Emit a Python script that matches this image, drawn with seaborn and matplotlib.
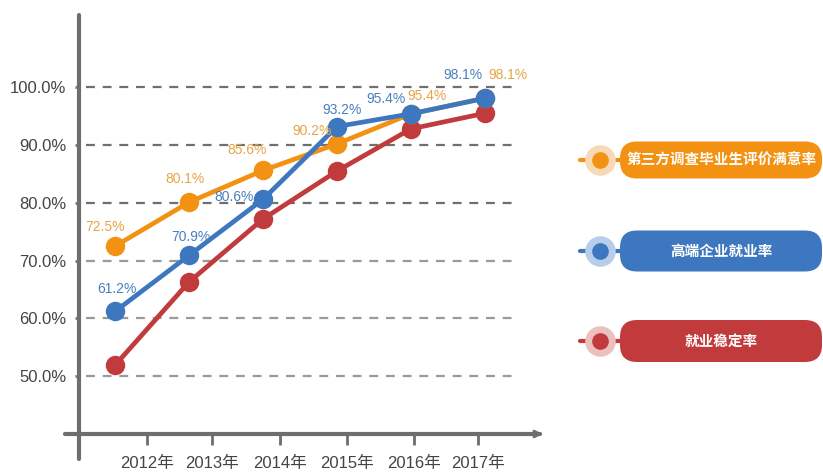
import matplotlib
matplotlib.use("Agg")
import matplotlib.pyplot as plt
from matplotlib.patches import FancyBboxPatch
from matplotlib.lines import Line2D
from matplotlib.transforms import IdentityTransform
import seaborn as sns
import pandas as pd
import numpy as np

# ---------------- data ----------------
years = ["2012年", "2013年", "2014年", "2015年", "2016年", "2017年"]
series_names = ["第三方调查毕业生评价满意率", "高端企业就业率", "就业稳定率"]
satisfaction = [72.5, 80.1, 85.6, 90.2, 95.4, 98.1]
high_end = [61.2, 70.9, 80.6, 93.2, 95.4, 98.1]
stability = [51.9, 66.3, 77.2, 85.5, 92.8, 95.5]
y_ticks = [50, 60, 70, 80, 90, 100]

# ---------------- style ----------------
sns.set_theme(style="white")
plt.rcParams['font.family'] = ['Liberation Sans', 'Noto Sans CJK SC', 'DejaVu Sans']

orange = "#F39212"
blue = "#3D77BF"
red = "#C23B3C"
orange_lbl = "#E8A445"
blue_lbl = "#4A7FBF"

W, H = 823, 475
fig = plt.figure(figsize=(W / 100, H / 100), dpi=100)
ax = fig.add_axes([79 / W, (H - 434) / H, (540 - 79) / W, (434 - 15) / H])

x = np.arange(len(years))
ax.set_xlim((79 - 115) / 74, (540 - 115) / 74)
ax.set_ylim(40, 112.5)

# gridlines
grid_end = (515 - 79) / (540 - 79)
for yt in y_ticks:
    gc = "#6f6f6f" if yt >= 80 else "#9a9a9a"
    ax.axhline(yt, xmin=0.015, xmax=grid_end, color=gc, lw=1.6,
               ls=(0, (4, 3.5)), zorder=1)

df = pd.DataFrame({"x": np.tile(x, 3),
                   "y": stability + satisfaction + high_end,
                   "s": [series_names[2]] * 6 + [series_names[0]] * 6 + [series_names[1]] * 6})

for name, col in [(series_names[2], red), (series_names[0], orange), (series_names[1], blue)]:
    sub = df[df["s"] == name]
    sns.lineplot(data=sub, x="x", y="y", color=col, lw=3.4, marker="o",
                 markersize=14, markeredgewidth=0, ax=ax, zorder=3, legend=False)

# data labels (offsets in points)
sat_off = [(-7, 9), (-3, 12), (-11.5, 9.5), (-18, 4), (11.5, 8), (16.5, 11.5)]
hi_off = [(1.5, 11), (1, 8), (-21, -3), (4, 7), (-18, 5.5), (-16, 11.5)]
for i, v in enumerate(satisfaction):
    ax.annotate(f"{v:.1f}%", (x[i], v), xytext=sat_off[i], textcoords="offset points",
                ha="center", va="bottom", fontsize=10, color=orange_lbl, zorder=5)
for i, v in enumerate(high_end):
    ax.annotate(f"{v:.1f}%", (x[i], v), xytext=hi_off[i], textcoords="offset points",
                ha="center", va="bottom", fontsize=10, color=blue_lbl, zorder=5)

# axes
for sp in ax.spines.values():
    sp.set_visible(False)
axis_col = "#6e6e6e"
ax.add_line(Line2D([0, 0], [-0.06, 1.0], transform=ax.transAxes, color=axis_col,
                   lw=3, clip_on=False, zorder=4))
ax.add_line(Line2D([-0.03, 1.0], [0, 0], transform=ax.transAxes, color=axis_col,
                   lw=3, clip_on=False, zorder=4))
ax.annotate("", xy=(1.012, 0), xytext=(0.98, 0), xycoords="axes fraction",
            arrowprops=dict(arrowstyle="-|>", color=axis_col, lw=1.5, mutation_scale=12))

xtick_pos = [(p - 115) / 74 for p in (147, 212, 280, 347, 414, 478)]
ax.set_xticks(xtick_pos)
ax.set_xticklabels(years, fontsize=12, color="#444444")
ax.set_yticks(y_ticks)
ax.set_yticklabels([f"{v:.1f}%" for v in y_ticks], fontsize=12, color="#444444")
ax.tick_params(axis="x", direction="out", length=8, width=2, color=axis_col, pad=8)
ax.tick_params(axis="y", direction="out", length=3, width=2, color="#777777", pad=6)
ax.tick_params(axis="both", bottom=True, left=True)
ax.set_xlabel("")
ax.set_ylabel("")

# custom legend on right (pixel coordinates, origin bottom-left)
legend_items = [(series_names[0], orange, "#F7D9B5", 160, 37),
                (series_names[1], blue, "#B7CDEA", 251, 41),
                (series_names[2], red, "#EDC0C0", 341, 42)]
for name, col, halo, cy, hgt in legend_items:
    yc = H - cy
    box = FancyBboxPatch((620, yc - hgt / 2), 202, hgt,
                         boxstyle="round,pad=0,rounding_size=17", transform=IdentityTransform(),
                         facecolor=col, edgecolor="none")
    fig.add_artist(box)
    fig.add_artist(Line2D([580, 624], [yc, yc], transform=IdentityTransform(), color=col, lw=3))
    fig.add_artist(Line2D([600], [yc], transform=IdentityTransform(), marker="o",
                          markersize=22, color=halo, markeredgewidth=0))
    fig.add_artist(Line2D([600], [yc], transform=IdentityTransform(), marker="o",
                          markersize=12, color=col, markeredgewidth=0))
    fig.text(721.5 / W, yc / H, name, ha="center", va="center", color="white",
             fontsize=10.5, fontweight="bold", family=['Noto Sans CJK SC', 'DejaVu Sans'])

fig.savefig("out.png", dpi=100, facecolor="white")
